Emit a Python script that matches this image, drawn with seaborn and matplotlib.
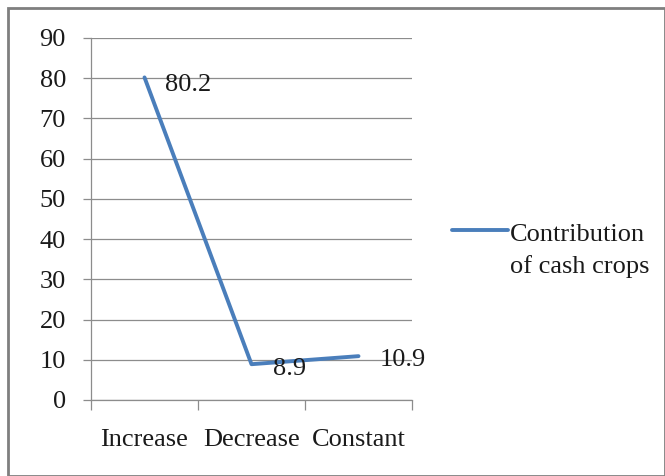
import matplotlib
matplotlib.use("Agg")
import matplotlib.pyplot as plt
import seaborn as sns
import pandas as pd
from matplotlib.patches import Rectangle

categories = ["Increase", "Decrease", "Constant"]
values = [80.2, 8.9, 10.9]
value_labels = ["80.2", "8.9", "10.9"]
y_ticks = [0, 10, 20, 30, 40, 50, 60, 70, 80, 90]
series_name = "Contribution\nof cash crops"

df = pd.DataFrame({"category": categories, "value": values})

sns.set_theme(style="white")
plt.rcParams["font.family"] = ["Liberation Serif", "DejaVu Serif"]

FS = 19
TXT = "#1a1a1a"
GRID = "#8c8c8c"

fig = plt.figure(figsize=(6.65, 4.76), dpi=100)
ax = fig.add_axes([91 / 665, 1 - 400 / 476, 321 / 665, 362 / 476])

line_color = "#4A7EBB"
sns.lineplot(data=df, x="category", y="value", ax=ax, color=line_color,
             linewidth=2.8, sort=False, legend=False)

ax.set_xlim(-0.5, 2.5)
ax.set_ylim(0, 90)
ax.set_yticks(y_ticks)
ax.set_yticklabels([str(t) for t in y_ticks], fontsize=FS, color=TXT)
ax.yaxis.grid(True, color=GRID, linewidth=0.9)
ax.set_axisbelow(True)
ax.tick_params(axis="y", length=6, width=0.9, color=GRID, pad=12, direction="out", left=True)

# category boundaries as major ticks, names centered on minor ticks
ax.set_xticks([-0.5, 0.5, 1.5, 2.5])
ax.set_xticklabels([])
ax.set_xticks([0, 1, 2], minor=True)
ax.set_xticklabels(categories, minor=True, fontsize=FS, color=TXT)
ax.tick_params(axis="x", which="major", length=7, width=0.9, color=GRID, direction="out", bottom=True)
ax.tick_params(axis="x", which="minor", length=0, pad=21)
ax.set_xlabel("")
ax.set_ylabel("")

for side in ["top", "right"]:
    ax.spines[side].set_visible(False)
for side in ["left", "bottom"]:
    ax.spines[side].set_color(GRID)
    ax.spines[side].set_linewidth(0.9)

# data labels
offsets = [(0.19, -1.9), (0.2, -1.2), (0.2, -0.9)]
for i, (v, lab) in enumerate(zip(values, value_labels)):
    dx, dy = offsets[i]
    ax.text(i + dx, v + dy, lab, fontsize=FS, color=TXT, va="center", ha="left")

# legend
fig.lines.append(plt.Line2D([452 / 665, 508 / 665], [1 - 230 / 476, 1 - 230 / 476],
                            transform=fig.transFigure, color=line_color, linewidth=2.8))
fig.text(510 / 665, 1 - 251 / 476, series_name, fontsize=FS, color=TXT,
         ha="left", va="center", linespacing=1.45)

# outer frame
fig.patches.append(Rectangle((8 / 665, 0), 1 - 8 / 665, 1 - 8 / 476, transform=fig.transFigure,
                             fill=False, edgecolor="#7f7f7f", linewidth=2))

fig.savefig("out.png", dpi=100)
